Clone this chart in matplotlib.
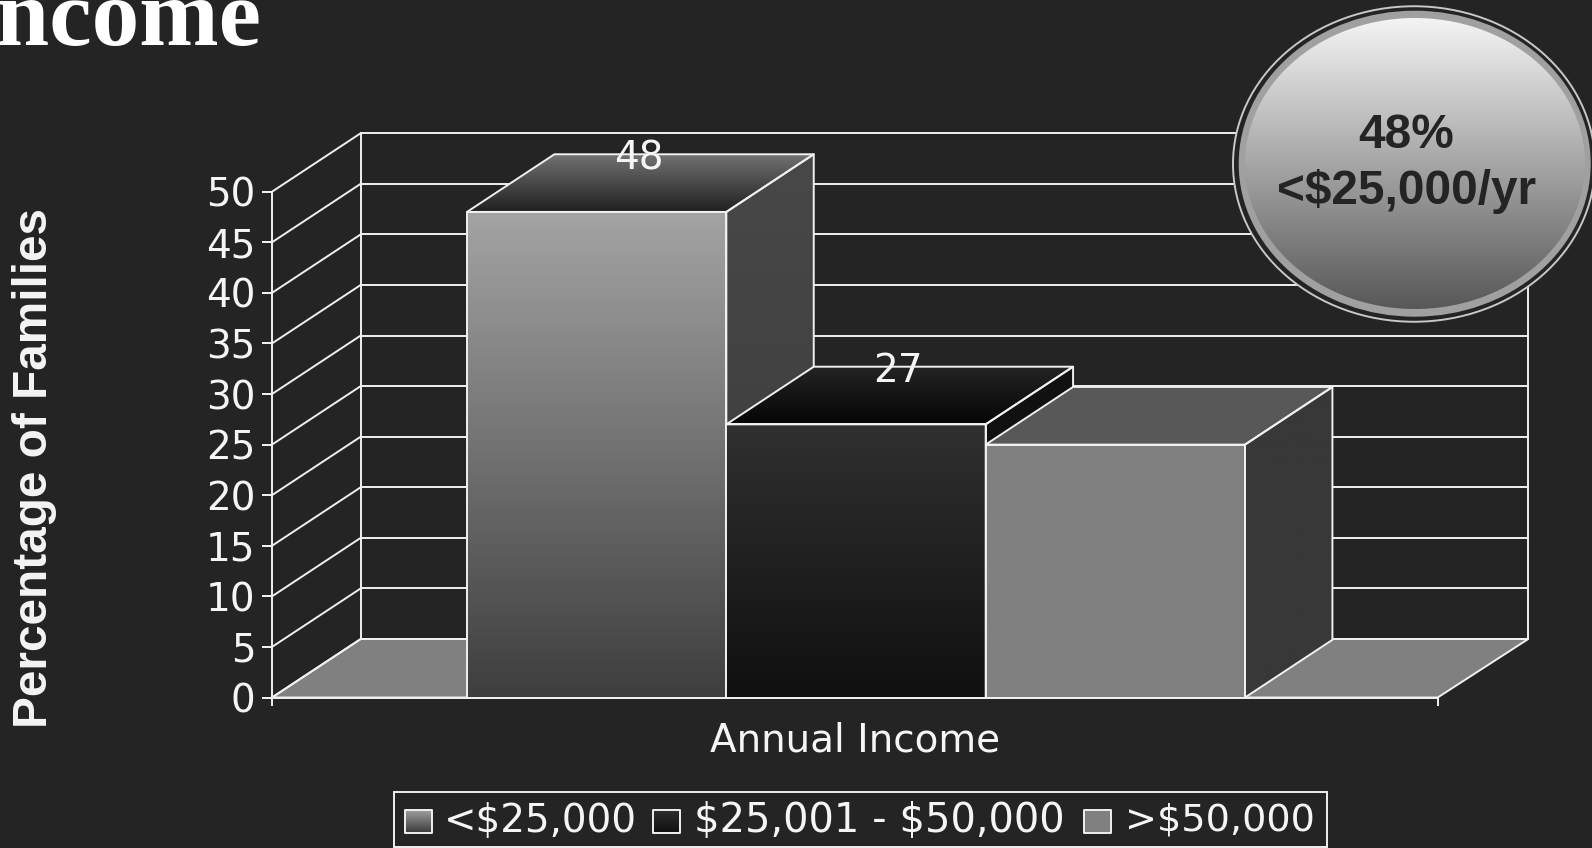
import numpy as np
import matplotlib
matplotlib.use('Agg')
import matplotlib.pyplot as plt
from matplotlib.patches import Polygon, Ellipse, Rectangle

# chart data
categories = ['<$25,000', '$25,001 - $50,000', '>$50,000']
values = [48, 27, 25]
value_labels = ['48', '27', None]
y_ticks = [0, 5, 10, 15, 20, 25, 30, 35, 40, 45, 50]

title_text = 'Income'
x_title = 'Annual Income'
y_title = 'Percentage of Families'
callout_lines = ['48%', '<$25,000/yr']

# shades per bar: front (top, bottom), roof (back, front), side (top, bottom)
front_shades = [('#a4a4a4', '#3e3e3e'), ('#303030', '#101010'), ('#808080', '#808080')]
roof_shades = [('#727272', '#202020'), ('#242424', '#050505'), ('#585858', '#585858')]
side_shades = [('#484848', '#3a3a3a'), ('#111111', '#111111'), ('#383838', '#383838')]

BG = '#242424'
LINE = '#f0f0f0'
LW = 1.4
W, H = 1592, 848

# depth of the 3D boxes in data units
BAR_DX = 0.337
BAR_DY = 5.7
WALL_DX_LEFT = 0.342
WALL_DX_RIGHT = 0.349
WALL_DY = 5.78
BAR_W = 1.0


def gradient_poly(ax, verts, top_color, bottom_color, zorder, edge=LINE):
    '''Fill a polygon with a vertical gradient, then stroke its outline'''
    verts = np.array(verts, dtype=float)
    c0 = np.array(matplotlib.colors.to_rgb(top_color))
    c1 = np.array(matplotlib.colors.to_rgb(bottom_color))
    t = np.linspace(0, 1, 256)[:, None, None]
    grad = c0[None, None, :] * (1 - t) + c1[None, None, :] * t
    ymin, ymax = verts[:, 1].min(), verts[:, 1].max()
    if ax.yaxis_inverted():
        extent = (verts[:, 0].min(), verts[:, 0].max(), ymax, ymin)
    else:
        extent = (verts[:, 0].min(), verts[:, 0].max(), ymin, ymax)
    im = ax.imshow(grad, extent=extent, aspect='auto', origin='upper',
                   interpolation='bilinear', zorder=zorder)
    outline = Polygon(verts, closed=True, facecolor='none', edgecolor=edge,
                      linewidth=LW, zorder=zorder + 0.1, clip_on=False,
                      joinstyle='round')
    ax.add_patch(outline)
    im.set_clip_path(outline)
    im.set_clip_box(ax.figure.bbox)
    return im


plt.rcParams['font.family'] = 'DejaVu Sans'
fig = plt.figure(figsize=(W / 100, H / 100), dpi=100, facecolor=BG)

# front plane of the 3D chart: y axis from 0 to 50
left, right, y0_px, y50_px = 272.0, 1437.7, 697.5, 191.7
ax = fig.add_axes([left / W, (H - y0_px) / H,
                   (right - left) / W, (y0_px - y50_px) / H])
ax.set_facecolor('none')
ax.set_autoscale_on(False)
x_min, x_max = -1.252, 3.243
ax.set_xlim(x_min, x_max)
ax.set_ylim(0, 50)

for name in ['top', 'right']:
    ax.spines[name].set_visible(False)
for name in ['left', 'bottom']:
    ax.spines[name].set_color(LINE)
    ax.spines[name].set_linewidth(LW)
ax.set_yticks(y_ticks)
ax.set_xticks([x_min, x_max])
ax.set_xticklabels([])
ax.tick_params(axis='y', colors='#f5f5f5', length=7, width=LW, pad=5, labelsize=28)
ax.tick_params(axis='x', colors=LINE, length=6, width=LW)

back_left = x_min + WALL_DX_LEFT
back_right = x_max + WALL_DX_RIGHT

# floor
floor = Polygon([(x_min, 0), (x_max, 0), (back_right, WALL_DY), (back_left, WALL_DY)],
                closed=True, facecolor='#808080', edgecolor=LINE, linewidth=LW,
                zorder=1, clip_on=False)
ax.add_patch(floor)

# side wall diagonals and back wall lines
for tick in y_ticks:
    ax.plot([x_min, back_left], [tick, tick + WALL_DY], color=LINE, lw=LW,
            clip_on=False, zorder=2)
    ax.plot([back_left, back_right], [tick + WALL_DY, tick + WALL_DY],
            color=LINE, lw=LW, clip_on=False, zorder=2)
ax.plot([back_left] * 2, [WALL_DY, 50 + WALL_DY], color=LINE, lw=LW,
        clip_on=False, zorder=2)
ax.plot([back_right] * 2, [WALL_DY, 50 + WALL_DY], color=LINE, lw=LW,
        clip_on=False, zorder=2)

# bars, left to right so the later ones sit on top
for i, value in enumerate(values):
    x0 = i - BAR_W / 2
    x1 = i + BAR_W / 2
    z = 3 + i
    gradient_poly(ax, [(x0, 0), (x1, 0), (x1, value), (x0, value)],
                  front_shades[i][0], front_shades[i][1], z)
    gradient_poly(ax, [(x0, value), (x1, value), (x1 + BAR_DX, value + BAR_DY),
                       (x0 + BAR_DX, value + BAR_DY)],
                  roof_shades[i][0], roof_shades[i][1], z)
    gradient_poly(ax, [(x1, 0), (x1 + BAR_DX, BAR_DY), (x1 + BAR_DX, value + BAR_DY),
                       (x1, value)],
                  side_shades[i][0], side_shades[i][1], z)
    if value_labels[i] is not None:
        ax.text(i + BAR_DX / 2 - 0.007, value + BAR_DY - 0.4, value_labels[i], ha='center',
                va='center', color='#f5f5f5', fontsize=28, zorder=10, clip_on=False)

# everything else is placed in figure pixels
over = fig.add_axes([0, 0, 1, 1])
over.set_autoscale_on(False)
over.set_xlim(0, W)
over.set_ylim(H, 0)
over.axis('off')

over.text(262, 45, title_text, family='Liberation Serif', weight='bold', fontsize=68.7,
          color='white', ha='right', va='baseline')
over.text(855, 740, x_title, ha='center', va='center', color='#f5f5f5', fontsize=28)
over.text(35, 468, y_title, family='Liberation Sans', weight='bold', fontsize=34.4,
          color='#f5f5f5', rotation=90, ha='center', va='center')

# callout: thin outer ring, dark gap, grey band, shaded face
over.add_patch(Ellipse((1414, 164), 362, 315.5, facecolor=BG, edgecolor='#c8c8c8', lw=1.4))
over.add_patch(Ellipse((1414.7, 163.7), 352, 306, facecolor='#a0a0a0', edgecolor='none'))
cx, cy, rx, ry = 1415, 163.5, 170, 145.5
angles = np.linspace(0, 2 * np.pi, 240)
ell = np.column_stack([cx + rx * np.cos(angles), cy + ry * np.sin(angles)])
gradient_poly(over, ell, '#f4f4f4', '#585858', 5, edge='none')
over.text(1406, 135, callout_lines[0], family='Liberation Sans', weight='bold', fontsize=34.4,
          color=BG, ha='center', va='center', zorder=7)
over.text(1407, 192, callout_lines[1], family='Liberation Sans', weight='bold', fontsize=34.4,
          color=BG, ha='center', va='center', zorder=7)

# legend box
over.add_patch(Rectangle((394, 791.5), 933, 55.5, facecolor='none', edgecolor=LINE, lw=LW))
swatch_left = [404.5, 653, 1084]
text_left = [444, 693.5, 1125]
legend_sizes = [28, 28.8, 27.5]
for i, label in enumerate(categories):
    sx = swatch_left[i]
    gradient_poly(over, [(sx, 810), (sx + 27, 810), (sx + 27, 832.5), (sx, 832.5)],
                  front_shades[i][0], front_shades[i][1], 5)
    over.text(text_left[i], 821, label, ha='left', va='center', color='#f5f5f5',
              fontsize=legend_sizes[i], parse_math=False)

fig.savefig('out.png', dpi=100, facecolor=BG)
